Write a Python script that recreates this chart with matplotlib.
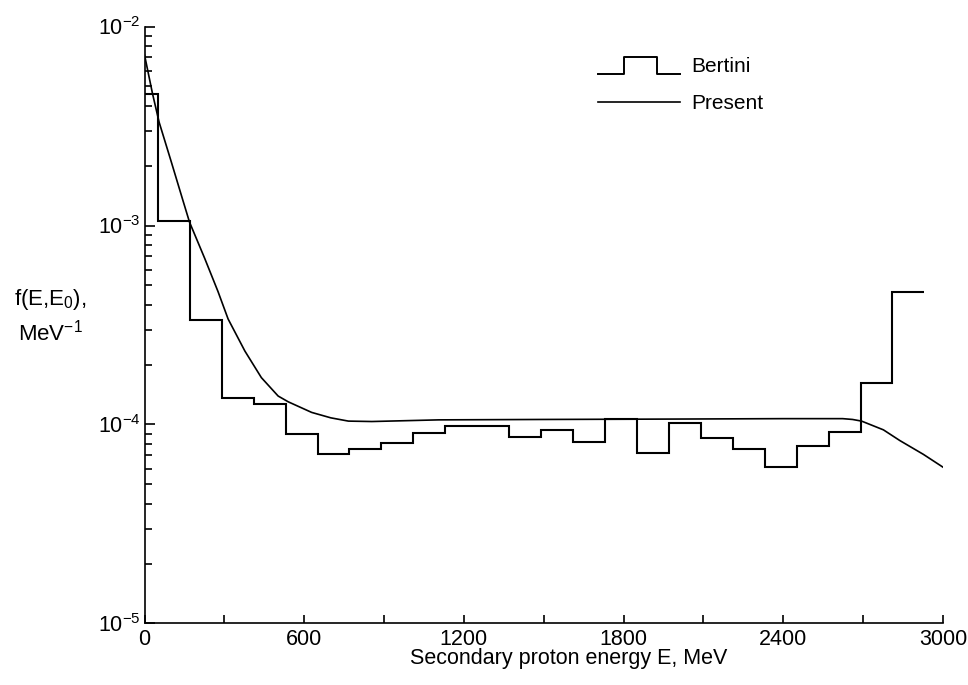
import matplotlib
matplotlib.use("Agg")
import matplotlib.pyplot as plt
from matplotlib.legend_handler import HandlerBase
from matplotlib.lines import Line2D
import numpy as np

plt.rcParams["font.family"] = ["Liberation Sans", "DejaVu Sans"]
plt.rcParams["mathtext.fontset"] = "custom"
plt.rcParams["mathtext.rm"] = "Liberation Sans"
plt.rcParams["mathtext.it"] = "Liberation Sans"

# Bertini histogram (bin edges in MeV, values in MeV^-1)
bertini_edges = [0, 50, 170, 290, 410, 530, 650, 770, 890, 1010, 1130, 1250, 1370,
                 1490, 1610, 1730, 1850, 1970, 2090, 2210, 2330, 2450, 2570, 2690,
                 2810, 2930]
bertini_values = [4.6e-3, 1.05e-3, 3.35e-4, 1.36e-4, 1.27e-4, 9.0e-5, 7.1e-5, 7.5e-5,
                  8.1e-5, 9.1e-5, 9.8e-5, 9.8e-5, 8.7e-5, 9.4e-5, 8.2e-5, 1.06e-4,
                  7.2e-5, 1.015e-4, 8.55e-5, 7.5e-5, 6.1e-5, 7.8e-5, 9.2e-5, 1.61e-4,
                  4.64e-4]

# Present calculation
present_E = [0, 30, 55, 100, 144, 169, 226, 276, 314, 377, 439, 502, 540, 628, 700,
             766, 854, 1105, 1500, 2000, 2400, 2623, 2660, 2694, 2776, 2838, 2926, 3000]
present_f = [7.2e-3, 4.6e-3, 3.3e-3, 2.1e-3, 1.34e-3, 1.04e-3, 6.84e-4, 4.66e-4,
             3.39e-4, 2.34e-4, 1.72e-4, 1.39e-4, 1.30e-4, 1.15e-4, 1.08e-4, 1.04e-4,
             1.035e-4, 1.055e-4, 1.06e-4, 1.065e-4, 1.07e-4, 1.07e-4, 1.06e-4, 1.04e-4,
             9.4e-5, 8.3e-5, 7.08e-5, 6.1e-5]

x_major = [0, 600, 1200, 1800, 2400, 3000]
x_minor = [300, 900, 1500, 2100, 2700]


class StepHandler(HandlerBase):
    def create_artists(self, legend, orig_handle, xdescent, ydescent, width, height,
                       fontsize, trans):
        xs = np.array([0, 0.31, 0.31, 0.72, 0.72, 1.0]) * width - xdescent
        ys = np.array([-0.1, -0.1, 1.05, 1.05, -0.1, -0.1]) * height - ydescent
        line = Line2D(xs, ys, color="black", lw=1.4)
        line.set_transform(trans)
        return [line]


fig = plt.figure(figsize=(9.68, 6.85), dpi=100)
ax = fig.add_axes([0.1493, 0.0898, 0.8249, 0.8715])

ax.stairs(bertini_values, bertini_edges, baseline=None, color="black", lw=1.5)
ax.plot(present_E, present_f, color="black", lw=1.2)

ax.set_yscale("log")
ax.set_xlim(0, 3000)
ax.set_ylim(1e-5, 1e-2)
ax.set_xticks(x_major)
ax.set_xticks(x_minor, minor=True)

ax.spines["top"].set_visible(False)
ax.spines["right"].set_visible(False)
ax.spines["left"].set_linewidth(1.2)
ax.spines["bottom"].set_linewidth(1.2)

ax.tick_params(axis="both", which="both", direction="in", labelsize=15.5, width=1.2)
ax.tick_params(axis="y", which="major", length=7, pad=3)
ax.tick_params(axis="y", which="minor", length=5)
ax.tick_params(axis="x", which="both", length=6, pad=4)

fig.text(0.052, 1 - 300 / 685, "f(E,E$_{0}$),", fontsize=16, ha="center", va="center")
fig.text(0.052, 1 - 333 / 685, "MeV$^{-1}$", fontsize=16, ha="center", va="center")
fig.text(569 / 968, 1 - 664 / 685, "Secondary proton energy E, MeV", fontsize=15.5,
         ha="center", va="baseline")

bertini_handle = Line2D([], [], color="black")
present_handle = Line2D([], [], color="black", lw=1.2)
ax.legend([bertini_handle, present_handle], ["Bertini", "Present"],
          handler_map={bertini_handle: StepHandler()},
          loc="upper left", bbox_to_anchor=(0.545, 0.98), frameon=False,
          fontsize=15, handlelength=3.9, handletextpad=0.55, labelspacing=0.85)

fig.savefig("out.png", dpi=100)
